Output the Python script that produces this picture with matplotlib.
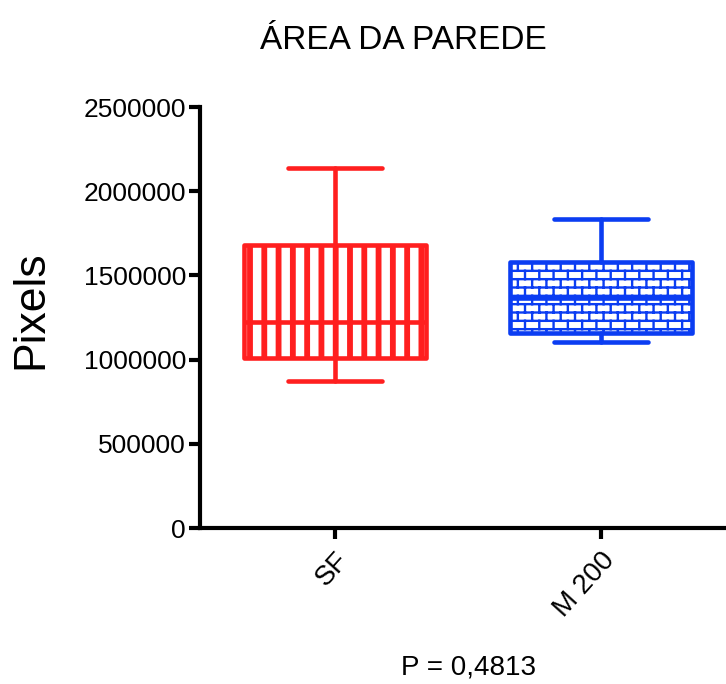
import warnings
import numpy as np
import matplotlib
matplotlib.use('Agg')
import matplotlib.pyplot as plt
from matplotlib import hatch as mhatch
from matplotlib.path import Path

warnings.filterwarnings('ignore')

# data (box-and-whisker summary per group)
groups = ['SF', 'M 200']
whisker_low = [875000, 1105000]
q1 = [1010000, 1158000]
medians = [1225000, 1368000]
q3 = [1683000, 1577000]
whisker_high = [2140000, 1835000]
y_ticks = [0, 500000, 1000000, 1500000, 2000000, 2500000]
p_text = 'P = 0,4813'


class VBars(mhatch.HatchPatternBase):
    ''' vertical bars, 7 per hatch unit, triggered by "v" '''

    def __init__(self, hatch, density):
        self.num_lines = hatch.count('v') * 7
        self.num_vertices = self.num_lines * 2

    def set_vertices_and_codes(self, vertices, codes):
        steps = (np.arange(self.num_lines) + 0.5) / self.num_lines
        vertices[0::2, 0] = steps
        vertices[0::2, 1] = 0.0
        vertices[1::2, 0] = steps
        vertices[1::2, 1] = 1.0
        codes[0::2] = Path.MOVETO
        codes[1::2] = Path.LINETO


class Bricks(mhatch.HatchPatternBase):
    ''' brick wall, 12 rows x 7 bricks per hatch unit, triggered by "b" '''

    rows = 12
    cols = 7

    def __init__(self, hatch, density):
        self.on = 'b' in hatch
        # horizontal lines + vertical joints (row 0 split across tile edge)
        self.num_vertices = 0
        if self.on:
            self.num_vertices = self.rows * 2 + (self.rows + 1) * self.cols * 2

    def set_vertices_and_codes(self, vertices, codes):
        r, c = self.rows, self.cols
        segs = []
        for k in range(r):
            y = (k + 0.5) / r
            segs.append(((0.0, y), (1.0, y)))
        for k in range(r):
            off = 0.25 if k % 2 == 0 else 0.75
            xs = (np.arange(c) + off) / c
            if k == 0:
                spans = [(0.0, 0.5 / r), (1.0 - 0.5 / r, 1.0)]
            else:
                spans = [((k - 0.5) / r, (k + 0.5) / r)]
            for y0, y1 in spans:
                for x in xs:
                    segs.append(((x, y0), (x, y1)))
        segs = np.array(segs)
        vertices[0::2] = segs[:, 0]
        vertices[1::2] = segs[:, 1]
        codes[0::2] = Path.MOVETO
        codes[1::2] = Path.LINETO


mhatch._hatch_types.extend([VBars, Bricks])

plt.rcParams['font.family'] = ['Liberation Sans', 'DejaVu Sans']

colors = ['#FF1F1F', '#0B3DF2']
hatches = ['v', 'b']
hatch_lw = [4.2, 1.7]

fig = plt.figure(figsize=(7.26, 6.84), dpi=100)
ax = fig.add_axes([0.2755, 0.228, 0.7245, 0.6155])

stats = []
for i, name in enumerate(groups):
    stats.append({'label': name, 'whislo': whisker_low[i], 'q1': q1[i],
                  'med': medians[i], 'q3': q3[i], 'whishi': whisker_high[i]})

for i, st in enumerate(stats):
    c = colors[i]
    lw = 3.3
    with plt.rc_context({'hatch.linewidth': hatch_lw[i]}):
        bp = ax.bxp([st], positions=[i], widths=0.684, capwidths=0.353,
                    showfliers=False, patch_artist=True,
                    boxprops=dict(facecolor='white', edgecolor=c, linewidth=lw,
                                  joinstyle='round'),
                    medianprops=dict(color=c, linewidth=lw),
                    whiskerprops=dict(color=c, linewidth=lw, solid_capstyle='round'),
                    capprops=dict(color=c, linewidth=lw, solid_capstyle='round'))
        for box in bp['boxes']:
            box.set_hatch(hatches[i])
            if hasattr(box, 'set_hatch_linewidth'):
                box.set_hatch_linewidth(hatch_lw[i])

ax.set_xlim(-0.5075, 1.47)
ax.set_ylim(0, 2500000)
ax.set_yticks(y_ticks)
ax.set_yticklabels([str(v) for v in y_ticks])
ax.set_xticks(range(len(groups)))
ax.set_xticklabels(groups, rotation=48, ha='right', rotation_mode='anchor',
                   fontsize=20)

for side in ['top', 'right']:
    ax.spines[side].set_visible(False)
for side in ['left', 'bottom']:
    ax.spines[side].set_linewidth(3)
ax.tick_params(axis='both', width=3, length=8, labelsize=19, direction='out')
ax.tick_params(axis='x', pad=6, labelsize=20)
ax.tick_params(axis='y', pad=2)

ax.set_xlabel(p_text, fontsize=20)
ax.xaxis.set_label_coords(0.51, -0.30)

fig.text(0.555, 0.9415, 'ÁREA DA PAREDE', fontsize=24, ha='center', va='center')
fig.text(0.0427, 0.547, 'Pixels', fontsize=32, rotation=90, ha='center', va='center')

fig.savefig('out.png', dpi=100)
